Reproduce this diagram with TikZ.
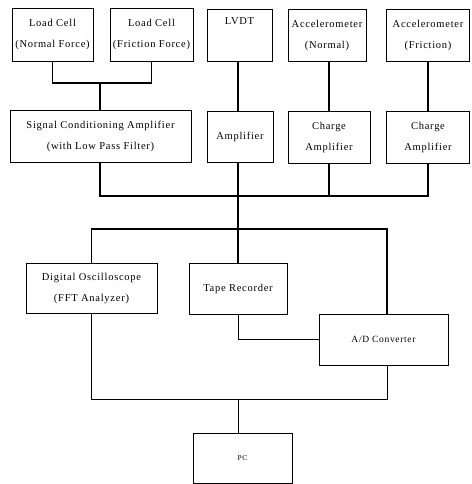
\documentclass[tikz,border=0pt]{standalone}
\usepackage{fontspec}
\setmainfont{Liberation Serif}[LetterSpace=7]
\begin{document}
\begin{tikzpicture}[x=1pt,y=-1pt,
  box/.style={draw=black,line width=0.9pt,rectangle,inner sep=0pt,align=center,
    font=\fontsize{10.5}{21}\selectfont},
  wire/.style={draw=black,line width=1.1pt},
  thinwire/.style={draw=black,line width=0.8pt}]
\useasboundingbox (0,0) rectangle (471,484);
% top row
\node[box,minimum width=81,minimum height=53] (lc1) at (52.5,34.5) {Load Cell\\(Normal Force)};
\node[box,minimum width=83,minimum height=53] (lc2) at (151.5,34.5) {Load Cell\\(Friction Force)};
\node[box,minimum width=65,minimum height=52] (lvdt) at (239.5,35) {LVDT\\\strut};
\node[box,minimum width=78,minimum height=52] (acn) at (327,35) {Accelerometer\\(Normal)};
\node[box,minimum width=83,minimum height=52] (acf) at (428,35) {Accelerometer\\(Friction)};
% second row
\node[box,minimum width=181,minimum height=52] (sca) at (100.5,136) {Signal Conditioning Amplifier\\(with Low Pass Filter)};
\node[box,minimum width=66,minimum height=51] (amp) at (240,136.5) {Amplifier};
\node[box,minimum width=82,minimum height=52] (ca1) at (329,137) {Charge\\Amplifier};
\node[box,minimum width=83,minimum height=52] (ca2) at (428,137) {Charge\\Amplifier};
% third row
\node[box,minimum width=131,minimum height=50] (dso) at (91.5,288) {Digital Oscilloscope\\(FFT Analyzer)};
\node[box,minimum width=98,minimum height=51] (tape) at (238,288.5) {Tape Recorder};
\node[box,minimum width=129,minimum height=51,font=\fontsize{9.5}{21}\selectfont] (adc) at (383.5,339.5) {A/D Converter};
\node[box,minimum width=99,minimum height=50,font=\fontsize{7.5}{9}\selectfont] (pc) at (242.5,458) {PC};
% junctions
\coordinate (j1) at (100,83);
\coordinate (b1l) at (100,196);
\coordinate (b1r) at (428,196);
\coordinate (b2l) at (91.5,229);
\coordinate (b2r) at (387,229);
\coordinate (b3r) at (387,399);
\coordinate (b3l) at (91.5,399);
\coordinate (pcj) at (238,399);
% connectors
\draw[wire] (lc1.south) |- (j1) -| (lc2.south);
\draw[wire] (j1) -- (j1 |- sca.north);
\draw[wire] (tape.north |- lvdt.south) -- (tape.north |- amp.north);
\draw[wire] (ca1.north) -- (ca1.north |- acn.south);
\draw[wire] (ca2.north) -- (ca2.north |- acf.south);
\draw[wire] (b1l |- sca.south) -- (b1l) -- (b1r) -- (b1r |- ca2.south);
\draw[wire] (ca1.south) -- (ca1.south |- b1l);
\draw[wire] (tape.north |- amp.south) -- (tape.north);
\draw[wire] (dso.north) -- (b2l) -- (b2r) -- (b2r |- adc.north);
\draw[thinwire] (tape.south) |- (adc.west);
\draw[thinwire] (b3r |- adc.south) -- (b3r) -- (b3l) -- (dso.south);
\draw[thinwire] (pcj) -- (pcj |- pc.north);
\end{tikzpicture}
\end{document}
